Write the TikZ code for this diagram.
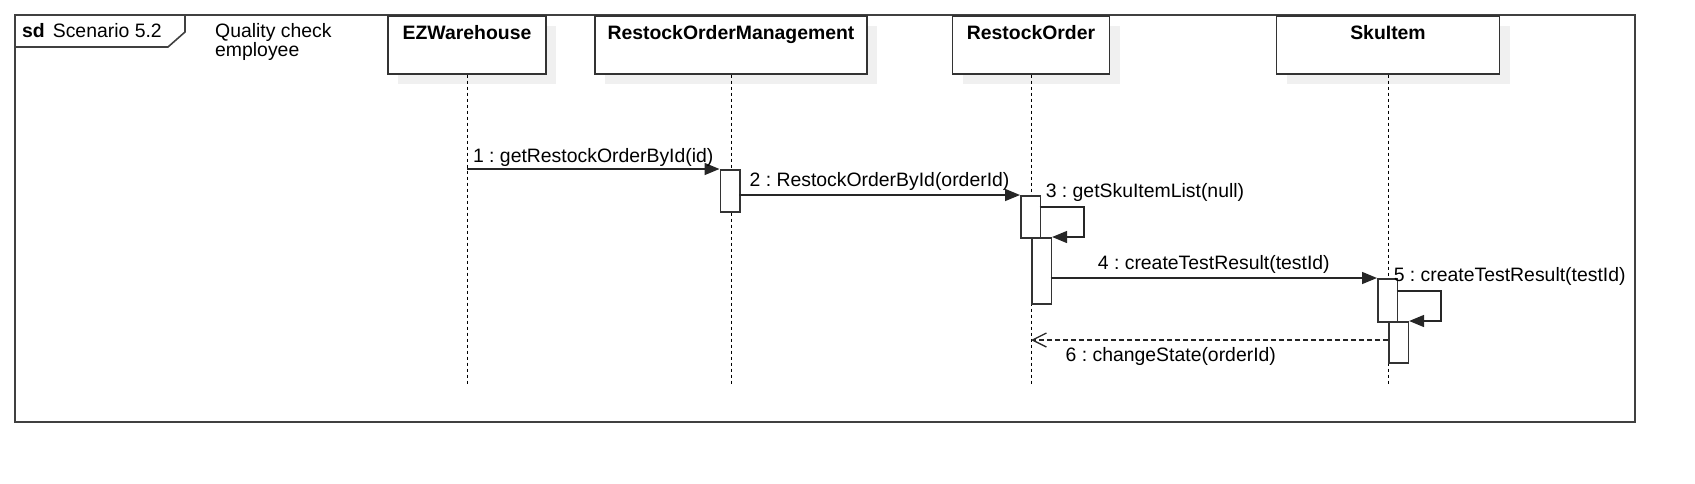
\documentclass[tikz,border=0pt]{standalone}
\usepackage{fontspec}
\setmainfont{Liberation Sans}
\frenchspacing
\usetikzlibrary{arrows.meta,shadows,positioning}
\begin{document}
\begin{tikzpicture}[x=1pt, y=-1pt, font=\fontsize{19.4}{19}\selectfont,
  frame/.style = {draw=black!75, line width=2pt},
  head/.style = {draw=black!80, line width=1.6pt, fill=white, anchor=north, inner sep=0pt, minimum height=58pt, drop shadow={shadow xshift=10pt, shadow yshift=-10pt, fill=black!6, opacity=1}},
  title/.style = {anchor=base, inner sep=0pt, font=\fontsize{19.4}{19}\selectfont\bfseries},
  life/.style = {black, line width=0.9pt, dash pattern=on 3.5pt off 2.5pt},
  act/.style = {draw=black!80, line width=1.6pt, fill=white, anchor=north west, minimum width=19.5pt, inner sep=0pt},
  msg/.style = {draw=black!85, line width=1.5pt, -{Triangle[length=15pt,width=12pt]}},
  ret/.style = {draw=black!85, line width=1.3pt, dash pattern=on 5pt off 3pt, -{Straight Barb[length=14pt,width=14pt]}},
  txt/.style = {anchor=base, inner sep=0pt}]
  \useasboundingbox (0,0) rectangle (1695,483);
  \draw[frame] (15,15) rectangle (1635,422);
  \draw[frame, line width=1.6pt] (15,47) -- (168,47) -- (185,32) -- (185,15);
  \node[txt, anchor=base west] (sd) at (22,37) {\textbf{sd}\hspace{8pt}Scenario 5.2};
  \node[anchor=north west, inner sep=0pt, align=left] (actor) at (215,23) {Quality check\\employee};

  \node[head, minimum width=158pt] (ez) at (467,15) {};
  \node[head, minimum width=272pt] (rom) at (731,15) {};
  \node[head, minimum width=157pt] (ro) at (1031,15) {};
  \node[head, minimum width=223pt] (ski) at (1388,15) {};
  \node[title] at ([yshift=-24pt]ez.north) {EZWarehouse};
  \node[title] at ([yshift=-24pt]rom.north) {RestockOrderManagement};
  \node[title] at ([yshift=-24pt]ro.north) {RestockOrder};
  \node[title] at ([yshift=-24pt]ski.north) {SkuItem};

  \coordinate (end) at (0,386);
  \draw[life] (ez.south) -- (ez.south |- end);
  \draw[life] (rom.south) -- (rom.south |- end);
  \draw[life] (ro.south) -- (ro.south |- end);
  \draw[life] (ski.south) -- (ski.south |- end);

  \node[act, minimum height=42pt] (a1) at (719.5,169) {};
  \node[act, minimum height=42pt] (a2) at (1020,195) {};
  \node[act, minimum height=66pt] (a3) at (1031,237) {};
  \node[act, minimum height=43pt] (a4) at (1377,278) {};
  \node[act, minimum height=41pt] (a5) at (1388,321) {};

  \coordinate (s1) at (467,169);
  \coordinate (s2) at (739,195);
  \coordinate (s3) at (1039.5,207);
  \coordinate (b3) at (1084,207);
  \coordinate (c3) at (1084,237);
  \coordinate (s4) at (1050.5,278);
  \coordinate (s5) at (1396.5,291);
  \coordinate (b5) at (1441,291);
  \coordinate (c5) at (1441,321);
  \coordinate (s6) at (1388,340);
  \coordinate (e6) at (1031,340);

  \draw[msg] (s1) to node[txt, yshift=7pt] {1 : getRestockOrderById(id)} (a1.north west);
  \draw[msg] (s2) to node[txt, yshift=9pt] {2 : RestockOrderById(orderId)} (a2.north west);
  \draw[msg] (s3) to node[txt, anchor=base west, pos=0, xshift=5.5pt, yshift=10pt] {3 : getSkuItemList(null)} (b3) -- (c3) -- (a3.north east);
  \draw[msg] (s4) to node[txt, yshift=9pt] {4 : createTestResult(testId)} (a4.north west);
  \draw[msg] (s5) to node[txt, anchor=base west, pos=0, xshift=-3.5pt, yshift=10pt] {5 : createTestResult(testId)} (b5) -- (c5) -- (a5.north east);
  \draw[ret] (s6) to node[txt, anchor=base west, pos=1, xshift=34pt, yshift=-21pt] {6 : changeState(orderId)} (e6);
\end{tikzpicture}
\end{document}
